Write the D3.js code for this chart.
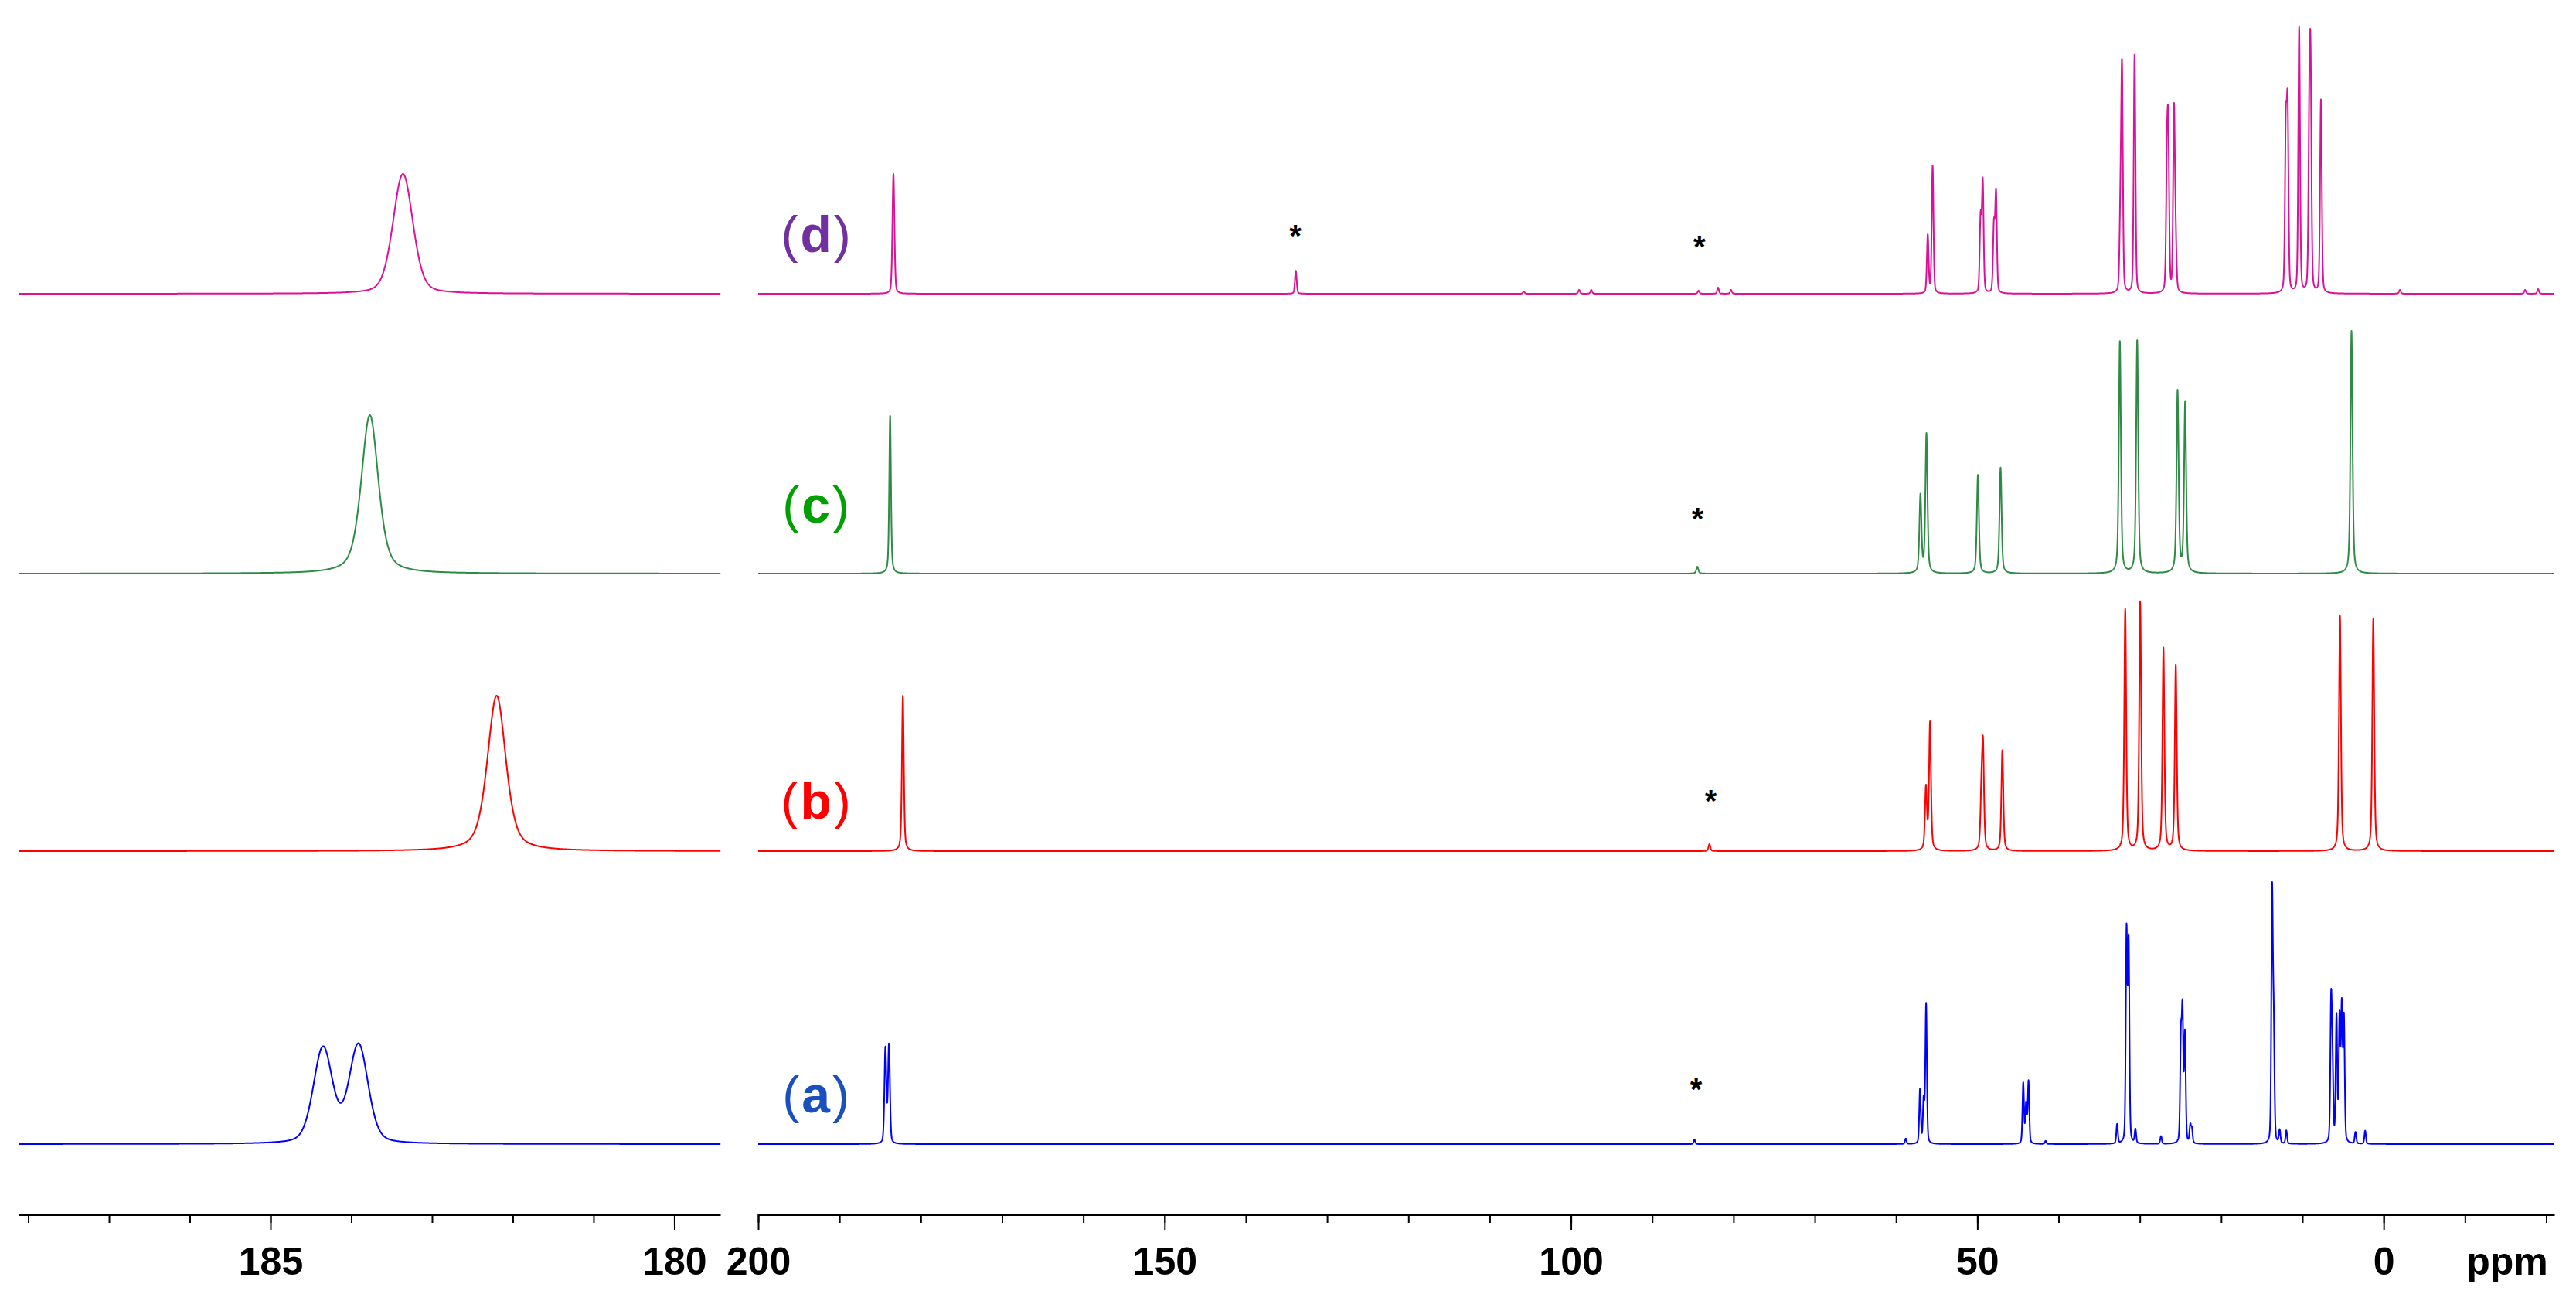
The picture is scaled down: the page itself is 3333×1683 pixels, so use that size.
<!DOCTYPE html>
<html>
<head>
<meta charset="utf-8">
<script src="https://cdn.jsdelivr.net/npm/d3@7"></script>
<style>
  body { margin: 0; background: #fff; }
  svg { display: block; }
</style>
</head>
<body>
<script>
// peak lists: [ppm, intensity (a.u.), optional linewidth ppm]
const peaksA = [
  [184.35, 123, 0.28], [183.91, 127, 0.28],
  [84.8, 6], [58.8, 7],
  [57.05, 70], [56.6, 55], [56.3, 180],
  [44.35, 78], [44.0, 50], [43.7, 80], [41.6, 4],
  [32.8, 25], [31.64, 270], [31.38, 255], [30.55, 18],
  [27.4, 10],
  [24.95, 130], [24.75, 162], [24.45, 140], [23.8, 22], [23.6, 18],
  [13.73, 318], [13.53, 140], [12.8, 17], [11.98, 17],
  [6.47, 175], [6.3, 95], [5.81, 162], [5.43, 158], [5.16, 170], [4.89, 158],
  [3.47, 15], [2.28, 17]
];
const peaksB = [
  [182.2, 201, 0.27],
  [82.96, 9],
  [56.32, 80], [55.82, 165],
  [49.5, 62], [49.3, 130], [46.92, 130],
  [31.8, 312], [29.96, 322],
  [27.1, 262], [25.58, 240],
  [5.38, 304], [1.28, 300]
];
const peaksC = [
  [183.77, 205, 0.25],
  [84.45, 9],
  [57.0, 100], [56.26, 180],
  [49.93, 128], [47.14, 137],
  [32.46, 300], [30.33, 302],
  [25.36, 235], [24.43, 220],
  [3.96, 314]
];
const peaksD = [
  [183.36, 155, 0.29],
  [133.85, 30],
  [105.8, 3], [99.0, 5], [97.5, 5], [84.3, 4], [81.9, 8], [80.3, 5],
  [56.1, 75], [55.5, 165],
  [49.6, 95], [49.33, 142], [47.96, 85], [47.7, 128],
  [32.4, 90], [32.2, 285], [30.65, 310],
  [26.67, 150], [26.5, 185], [25.8, 232], [25.6, 60],
  [12.04, 203], [11.82, 228], [10.4, 343], [9.15, 195], [8.99, 258], [7.72, 250],
  [-2.0, 5], [-17.4, 5], [-19.0, 6]
];
// default linewidth (ppm) and lorentzian fraction per spectrum
const lineWidths = { a: 0.22, b: 0.28, c: 0.3, d: 0.25 };
const lorentzFrac = { a: 0.3, b: 0.5, c: 0.5, d: 0.3 };

// spinning sidebands marked with *: [spectrum, ppm, height of mark (a.u.)]
const sidebandMarks = [
  ["d", 133.9, 84], ["d", 84.2, 70], ["c", 84.4, 80], ["b", 82.8, 74], ["a", 84.6, 80]
];
const spectrumLabels = ["a", "b", "c", "d"];
const labelHeights = { a: 41, b: 42, c: 66, d: 54 };

const leftMinorTicks = d3.range(180, 189, 1);
const leftMajorTicks = [185, 180];
const rightMinorTicks = d3.range(-20, 201, 10);
const rightMajorTicks = [200, 150, 100, 50, 0];

const W = 3333, H = 1683;
const traceColor = { a: "#0000ff", b: "#ff0000", c: "#2e8b45", d: "#dd1199" };
const labelColor = { a: "#1a4fc0", b: "#ff0000", c: "#00a000", d: "#7030a0" };
const baseline = { a: 1480, b: 1101, c: 742, d: 380 };
const peaks = { a: peaksA, b: peaksB, c: peaksC, d: peaksD };
const font = "'Liberation Sans', Arial, Helvetica, sans-serif";

const svg = d3.select("body").append("svg")
  .attr("width", W)
  .attr("height", H);

const xLeft = d3.scaleLinear().domain([188.12, 179.43]).range([24, 932]);
const xRight = d3.scaleLinear().domain([200, -21]).range([981, 3305]);
const yInt = d3.scaleLinear().domain([0, 360]).range([0, 360]);

// pseudo-voigt sum of the peak list at one ppm value
function intensityAt(key, ppm) {
  const eta = lorentzFrac[key];
  let s = 0;
  peaks[key].forEach(p => {
    const w = p[2] || lineWidths[key];
    const u = (ppm - p[0]) / w;
    const u2 = u * u;
    const g = Math.exp(-4 * Math.LN2 * u2);
    const l = 1 / (1 + 4 * u2);
    s += p[1] * (eta * l + (1 - eta) * g);
  });
  return s;
}

function drawTrace(key, xs, step) {
  const d0 = xs.domain();
  const grid = d3.range(d0[0], d0[1] - step / 2, -step);
  const line = d3.line()
    .x(p => xs(p))
    .y(p => baseline[key] - yInt(intensityAt(key, p)));
  svg.append("path")
    .attr("d", line(grid))
    .attr("fill", "none")
    .attr("stroke", traceColor[key])
    .attr("stroke-width", 2)
    .attr("stroke-linejoin", "round");
}

spectrumLabels.forEach(k => {
  drawTrace(k, xLeft, 0.004);
  drawTrace(k, xRight, 0.02);
});

// labels (a)..(d)
spectrumLabels.forEach(k => {
  const t = svg.append("text")
    .attr("x", xRight(192.9))
    .attr("y", baseline[k] - yInt(labelHeights[k]))
    .attr("text-anchor", "middle")
    .attr("font-family", font)
    .attr("font-size", 66)
    .attr("fill", labelColor[k]);
  t.append("tspan").text("(");
  t.append("tspan").attr("font-weight", "bold").attr("dx", 3).text(k);
  t.append("tspan").attr("dx", 3).text(")");
});

// asterisks over sidebands
svg.selectAll("text.star")
  .data(sidebandMarks)
  .enter()
  .append("text")
  .attr("class", "star")
  .attr("x", d => xRight(d[1]))
  .attr("y", d => baseline[d[0]] - yInt(d[2]) + 23)
  .attr("text-anchor", "middle")
  .attr("font-family", font)
  .attr("font-weight", "bold")
  .attr("font-size", 40)
  .attr("fill", "#000")
  .text("*");

// axes
const axisY = 1571;
function drawAxis(scale, minor, major) {
  const gMinor = svg.append("g")
    .attr("transform", `translate(0,${axisY})`)
    .call(d3.axisBottom(scale).tickValues(minor).tickSize(11).tickSizeOuter(0).tickFormat(""));
  gMinor.select(".domain").attr("stroke", "#000").attr("stroke-width", 3);
  gMinor.selectAll(".tick line").attr("stroke", "#000").attr("stroke-width", 2);

  const gMajor = svg.append("g")
    .attr("transform", `translate(0,${axisY})`)
    .call(d3.axisBottom(scale).tickValues(major).tickSize(20).tickSizeOuter(0).tickFormat(d3.format("d")));
  gMajor.select(".domain").remove();
  gMajor.selectAll(".tick line").attr("stroke", "#000").attr("stroke-width", 2);
  gMajor.selectAll(".tick text")
    .attr("y", 78)
    .attr("dy", null)
    .attr("fill", "#000")
    .attr("font-family", font)
    .attr("font-weight", "bold")
    .attr("font-size", 50);
}
drawAxis(xLeft, leftMinorTicks, leftMajorTicks);
drawAxis(xRight, rightMinorTicks, rightMajorTicks);

svg.append("text")
  .attr("x", xRight(-15.2))
  .attr("y", axisY + 78)
  .attr("text-anchor", "middle")
  .attr("font-family", font)
  .attr("font-weight", "bold")
  .attr("font-size", 50)
  .attr("fill", "#000")
  .text("ppm");
</script>
</body>
</html>
